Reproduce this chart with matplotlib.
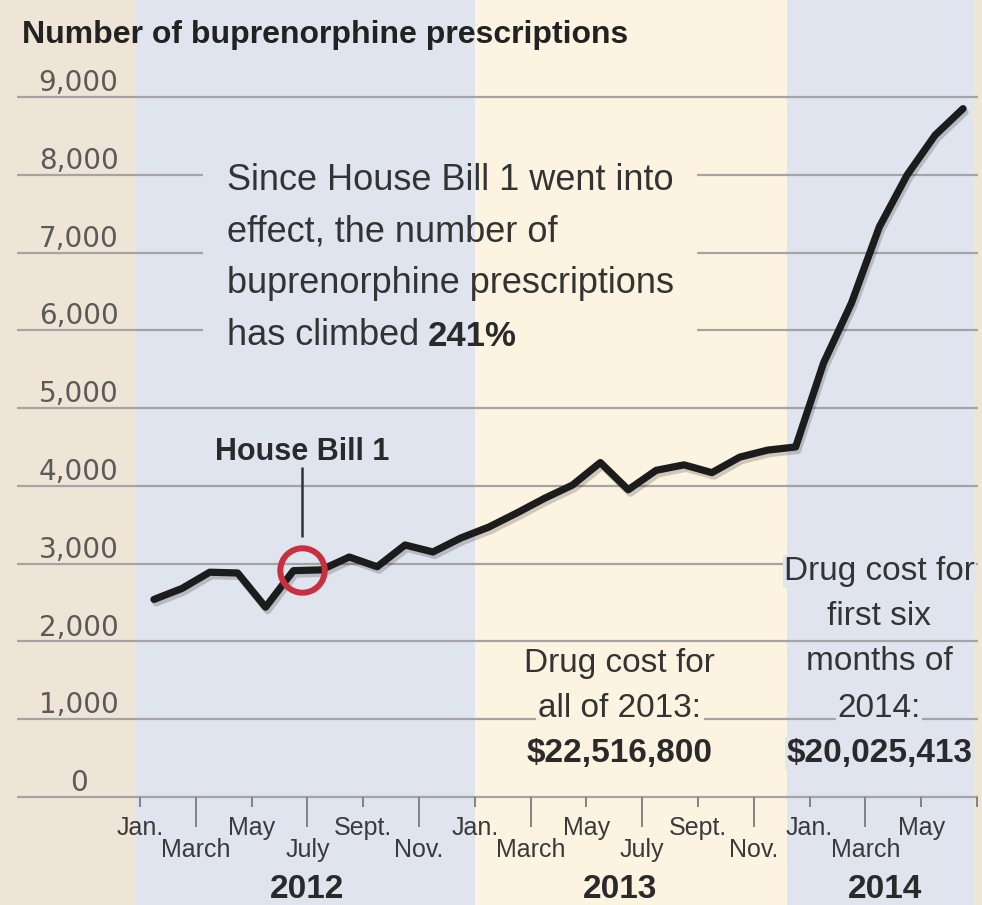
import matplotlib
matplotlib.use("Agg")
import matplotlib.pyplot as plt
import matplotlib.patheffects as pe
from matplotlib.patches import Rectangle

# monthly buprenorphine prescriptions, Jan. 2012 - June 2014
months = list(range(30))
prescriptions = [2540, 2680, 2890, 2880, 2440, 2910, 2920, 3085, 2960, 3240, 3150, 3330,
                 3470, 3650, 3840, 4010, 4300, 3950, 4200, 4270, 4170, 4370, 4460, 4500,
                 5580, 6350, 7330, 8000, 8510, 8850]

y_ticks = [0, 1000, 2000, 3000, 4000, 5000, 6000, 7000, 8000, 9000]
y_labels = ["0", "1,000", "2,000", "3,000", "4,000", "5,000", "6,000", "7,000", "8,000", "9,000"]

tick_months = list(range(0, 30, 2))
month_names = ["Jan.", "March", "May", "July", "Sept.", "Nov."]

years = ["2012", "2013", "2014"]
year_x = [6.0, 17.2, 26.7]
band_edges = [-0.15, 12.0, 23.2, 29.86]

BLUE = "#dfe4ef"
CREAM = "#fdf3e1"
TAN = "#efe5d6"
REG = ["Liberation Sans", "DejaVu Sans"]

fig = plt.figure(figsize=(9.82, 9.05), dpi=100)
fig.patch.set_facecolor(TAN)
ax = fig.add_axes([0, 0, 1, 1])
ax.set_xlim(-5.018, 30.18)
ax.set_ylim(-1389, 10247)
ax.axis("off")

# year bands
band_colors = [BLUE, CREAM, BLUE]
for i in range(3):
    ax.axvspan(band_edges[i], band_edges[i + 1], color=band_colors[i], lw=0, zorder=0)

# grid
ax.hlines(y_ticks, -4.41, 30.04, color="#a4a4a4", lw=1.6, zorder=1)
for v, lab in zip(y_ticks, y_labels):
    ax.text(-2.2, v + 75, lab, ha="center", va="baseline", fontsize=20,
            color="#5a5a5a", family="DejaVu Sans", zorder=3)

# x ticks
for i, m in enumerate(tick_months):
    long_tick = i % 2 == 1
    ax.vlines(m, 0, -385 if long_tick else -129, color="#7a7a7a", lw=1.3, zorder=2)
    ax.text(m, -770 if long_tick else -495, month_names[i % 6], ha="center", va="baseline",
            fontsize=18, color="#3a3a3a", family=REG, zorder=3)
ax.vlines(30, 0, -129, color="#7a7a7a", lw=1.3, zorder=2)

for yx, yr in zip(year_x, years):
    ax.text(yx, -1300, yr, ha="center", va="baseline", fontsize=24, fontweight="bold",
            color="#2a2a2a", family=REG, zorder=3)

# data line
x = [m + 0.5 for m in months]
ax.plot(x, prescriptions, color="#1c1c1c", lw=5.2, solid_capstyle="round",
        solid_joinstyle="round", zorder=5,
        path_effects=[pe.SimpleLineShadow(offset=(1.5, -2.5), alpha=0.18), pe.Normal()])

# House Bill 1 marker
bill_m = 5.8
ax.text(bill_m, 4333, "House Bill 1", ha="center", va="baseline", fontsize=22,
        fontweight="bold", color="#2a2a2a", family=REG, zorder=6)
ax.vlines(bill_m, 3343, 4243, color="#333333", lw=1.8, zorder=6)
ax.plot(bill_m, 2918, marker="o", ms=32, mfc="none", mec="#c9303f", mew=4.3, zorder=7)

# main note, with band-coloured blocks hiding the grid behind it
ax.add_patch(Rectangle((2.26, 5747), 12.0 - 2.26, 8383 - 5747, facecolor=BLUE, lw=0, zorder=2))
ax.add_patch(Rectangle((12.0, 5747), 19.96 - 12.0, 8383 - 5747, facecolor=CREAM, lw=0, zorder=2))
note = ["Since House Bill 1 went into", "effect, the number of",
        "buprenorphine prescriptions", "has climbed"]
note_y = [7804, 7140, 6476, 5811]
for line, ny in zip(note, note_y):
    t = ax.text(3.12, ny, line, ha="left", va="baseline", fontsize=26,
                color="#333333", family=REG, zorder=6)
ax.annotate("241%", xy=(1, 0), xycoords=t, xytext=(6, 0), textcoords="offset points",
            ha="left", va="bottom", fontsize=25, fontweight="bold", color="#2a2a2a",
            family=REG, zorder=6)

# drug cost notes
cost13 = ["Drug cost for", "all of 2013:"]
for line, ny in zip(cost13, [1607, 1029]):
    ax.text(17.2, ny, line, ha="center", va="baseline", fontsize=24, color="#333333",
            family=REG, zorder=6, bbox=dict(facecolor=CREAM, edgecolor="none", pad=2))
ax.text(17.2, 450, "$22,516,800", ha="center", va="baseline", fontsize=24,
        fontweight="bold", color="#2a2a2a", family=REG, zorder=6,
        bbox=dict(facecolor=CREAM, edgecolor="none", pad=2))

cost14 = ["Drug cost for", "first six", "months of", "2014:"]
for line, ny in zip(cost14, [2790, 2211, 1633, 1029]):
    ax.text(26.5, ny, line, ha="center", va="baseline", fontsize=24, color="#333333",
            family=REG, zorder=6, bbox=dict(facecolor=BLUE, edgecolor="none", pad=1))
ax.text(26.5, 450, "$20,025,413", ha="center", va="baseline", fontsize=24,
        fontweight="bold", color="#2a2a2a", family=REG, zorder=6,
        bbox=dict(facecolor=BLUE, edgecolor="none", pad=1))

fig.text(22 / 982, 1 - 43 / 905, "Number of buprenorphine prescriptions", ha="left",
         va="baseline", fontsize=23, fontweight="bold", color="#222222", family=REG)

fig.savefig("out.png", dpi=100, facecolor=fig.get_facecolor())
